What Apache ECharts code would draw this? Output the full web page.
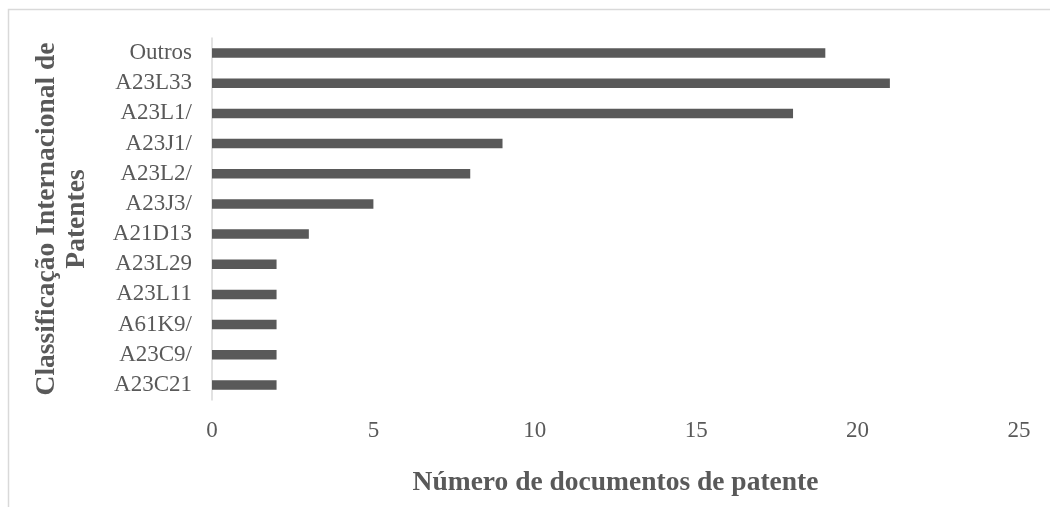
<!DOCTYPE html>
<html>
<head>
<meta charset="utf-8">
<script src="https://cdn.jsdelivr.net/npm/echarts@6/dist/echarts.min.js"></script>
<style>
  html, body { margin: 0; padding: 0; background: #fff; }
  #main { width: 1050px; height: 507px; }
</style>
</head>
<body>
<div id="main"></div>
<script>
// categories from bottom to top
var categories = ["A23C21", "A23C9/", "A61K9/", "A23L11", "A23L29", "A21D13",
    "A23J3/", "A23L2/", "A23J1/", "A23L1/", "A23L33", "Outros"];
var docCounts = [2, 2, 2, 2, 2, 3, 5, 8, 9, 18, 21, 19];
var xTicks = [0, 5, 10, 15, 20, 25];

var fontFam = "'Liberation Serif', 'Times New Roman', serif";
var grey = "#595959";

var option = {
    animation: false,
    backgroundColor: "#fff",
    grid: { left: 212, right: 31, top: 38, bottom: 107 },
    graphic: [{
        type: "rect",
        shape: { x: 8.5, y: 9.5, width: 1200, height: 700 },
        style: { fill: "none", stroke: "#d9d9d9", lineWidth: 1.5 },
        silent: true
    }],
    xAxis: {
        type: "value",
        min: xTicks[0],
        max: xTicks[xTicks.length - 1],
        interval: 5,
        axisLine: { show: false },
        axisTick: { show: false },
        splitLine: { show: false },
        axisLabel: { color: grey, fontFamily: fontFam, fontSize: 23, margin: 19 },
        name: "Número de documentos de patente",
        nameLocation: "middle",
        nameGap: 69,
        nameTextStyle: { color: grey, fontFamily: fontFam, fontSize: 27.5, fontWeight: "bold" }
    },
    yAxis: {
        type: "category",
        data: categories,
        axisLine: { show: true, lineStyle: { color: "#d9d9d9", width: 1.5 } },
        axisTick: { show: false },
        axisLabel: { color: grey, fontFamily: fontFam, fontSize: 23, margin: 20 },
        name: "Classificação Internacional de\nPatentes",
        nameLocation: "middle",
        nameRotate: 90,
        nameGap: 120,
        nameTextStyle: { color: grey, fontFamily: fontFam, fontSize: 27.5, fontWeight: "bold",
            lineHeight: 30, align: "center" }
    },
    series: [{
        type: "bar",
        data: docCounts,
        barWidth: 9.5,
        itemStyle: { color: grey }
    }]
};

var myChart = echarts.init(document.getElementById("main"));
myChart.setOption(option);
</script>
</body>
</html>
